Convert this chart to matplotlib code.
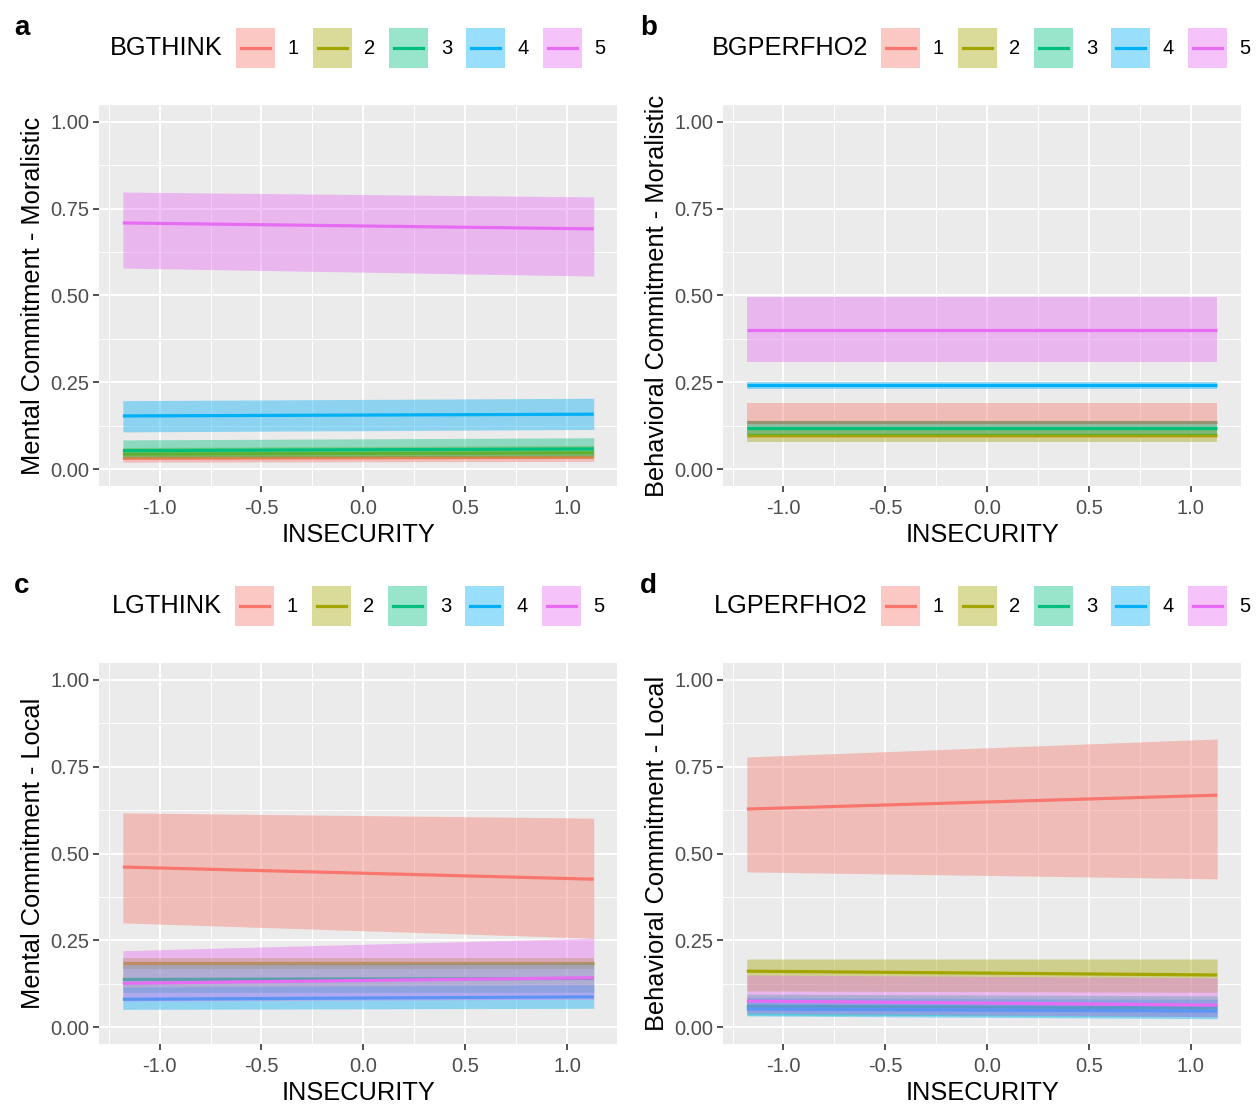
import matplotlib.pyplot as plt
from matplotlib.patches import Rectangle
from matplotlib.lines import Line2D

W, H = 1259, 1110

# groups shared by every panel
groups = ["1", "2", "3", "4", "5"]
colors = ["#F8766D", "#A3A500", "#00BF7D", "#00B0F6", "#E76BF3"]
x_ends = [-1.18, 1.13]

# panel a: BGTHINK (left end, right end) per group
a_fit = [[0.031, 0.034], [0.043, 0.047], [0.053, 0.058], [0.153, 0.158], [0.709, 0.692]]
a_lo = [[0.020, 0.022], [0.030, 0.032], [0.035, 0.038], [0.107, 0.114], [0.579, 0.556]]
a_hi = [[0.045, 0.050], [0.062, 0.068], [0.084, 0.090], [0.197, 0.204], [0.798, 0.784]]

# panel b: BGPERFHO2
b_fit = [[0.135, 0.135], [0.098, 0.098], [0.117, 0.117], [0.242, 0.242], [0.400, 0.400]]
b_lo = [[0.090, 0.090], [0.079, 0.079], [0.098, 0.098], [0.231, 0.231], [0.308, 0.308]]
b_hi = [[0.189, 0.189], [0.120, 0.120], [0.138, 0.138], [0.252, 0.252], [0.496, 0.496]]

# panel c: LGTHINK
c_fit = [[0.461, 0.426], [0.184, 0.184], [0.137, 0.140], [0.080, 0.087], [0.126, 0.142]]
c_lo = [[0.300, 0.256], [0.168, 0.168], [0.100, 0.100], [0.051, 0.054], [0.075, 0.080]]
c_hi = [[0.617, 0.602], [0.198, 0.198], [0.180, 0.185], [0.115, 0.122], [0.220, 0.256]]

# panel d: LGPERFHO2
d_fit = [[0.628, 0.668], [0.161, 0.150], [0.060, 0.055], [0.052, 0.046], [0.075, 0.063]]
d_lo = [[0.447, 0.427], [0.104, 0.100], [0.035, 0.030], [0.032, 0.024], [0.040, 0.030]]
d_hi = [[0.778, 0.830], [0.196, 0.196], [0.095, 0.090], [0.085, 0.080], [0.150, 0.142]]

x_ticks = [-1.0, -0.5, 0.0, 0.5, 1.0]
y_ticks = [0.0, 0.25, 0.5, 0.75, 1.0]

panels = [
    ("a", "BGTHINK", "Mental Commitment - Moralistic", a_fit, a_lo, a_hi),
    ("b", "BGPERFHO2", "Behavioral Commitment - Moralistic", b_fit, b_lo, b_hi),
    ("c", "LGTHINK", "Mental Commitment - Local", c_fit, c_lo, c_hi),
    ("d", "LGPERFHO2", "Behavioral Commitment - Local", d_fit, d_lo, d_hi),
]

plt.rcParams["font.family"] = ["Liberation Sans", "DejaVu Sans"]
fig = plt.figure(figsize=(W / 100, H / 100), dpi=100)
fig.patch.set_facecolor("white")


def fx(px):
    return px / W


def fy(py):
    return 1 - py / H


# pixel positions of each panel column: left, top, right, bottom; rows shift down
boxes = [(99.3, 104.6, 617.3, 486.4), (723.3, 104.6, 1240.7, 486.4)]
row_dy = [0, 558]
legend_box0 = [236, 881, 235, 881]
col_left = [0, 626]

for i, (letter, title, ylabel, fit, lo, hi) in enumerate(panels):
    col, row = i % 2, i // 2
    l, t, r, b = boxes[col]
    dy = row_dy[row]
    ax = fig.add_axes([fx(l), fy(b + dy), fx(r - l), (b - t) / H])
    ax.set_facecolor("#EBEBEB")
    for s in ax.spines.values():
        s.set_visible(False)

    for k in range(len(groups)):
        ax.fill_between(x_ends, lo[k], hi[k], color=colors[k], alpha=0.4, lw=0, zorder=3)
        ax.plot(x_ends, fit[k], color=colors[k], lw=2.3, zorder=3, solid_capstyle="butt")

    ax.set_xlim(-1.2955, 1.2455)
    ax.set_ylim(-0.05, 1.05)
    ax.set_xticks(x_ticks)
    ax.set_xticklabels([f"{v:.1f}" for v in x_ticks])
    ax.set_yticks(y_ticks)
    ax.set_yticklabels([f"{v:.2f}" for v in y_ticks])
    ax.set_xticks([-1.25, -0.75, -0.25, 0.25, 0.75], minor=True)
    ax.set_yticks([0.125, 0.375, 0.625, 0.875], minor=True)
    ax.grid(which="major", color="white", lw=1.4, zorder=1)
    ax.grid(which="minor", color="white", lw=0.7, zorder=1)
    ax.set_axisbelow(True)
    ax.tick_params(which="major", length=4, width=1.2, color="#333333",
                   labelcolor="#4D4D4D", labelsize=14.5)
    ax.tick_params(axis="x", which="major", pad=5)
    ax.tick_params(axis="y", which="major", pad=3)
    ax.tick_params(which="minor", length=0)
    ax.set_xlabel("INSECURITY", fontsize=18.3, labelpad=4)
    ax.set_ylabel(ylabel, fontsize=18.3, labelpad=4)

    # panel letter
    fig.text(fx(col_left[col] + 14), fy(28 + dy), letter, fontsize=20,
             fontweight="bold", va="center", ha="left")

    # legend: title on the left, keys in a row
    x0 = legend_box0[i]
    cy = 48 + dy
    fig.text(fx(x0 - 13), fy(cy), title, fontsize=18.3, ha="right", va="center")
    for k, g in enumerate(groups):
        bx = x0 + k * 76.7
        fig.patches.append(Rectangle((fx(bx), fy(cy + 20)), fx(39), 40 / H,
                                     transform=fig.transFigure, facecolor=colors[k],
                                     alpha=0.4, lw=0))
        fig.lines.append(Line2D([fx(bx + 5), fx(bx + 34)], [fy(cy), fy(cy)],
                                transform=fig.transFigure, color=colors[k], lw=2.3))
        fig.text(fx(bx + 57), fy(cy), g, fontsize=14.5, ha="center", va="center")

fig.savefig("out.png", dpi=100, facecolor="white")
